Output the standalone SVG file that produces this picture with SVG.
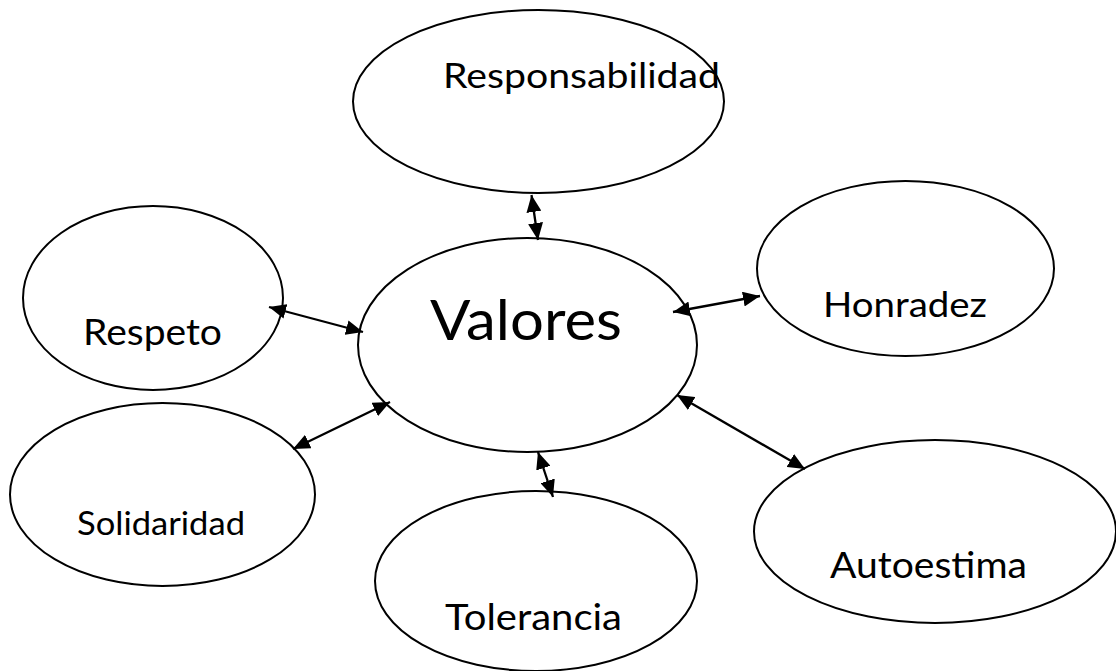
<svg xmlns="http://www.w3.org/2000/svg" width="1116" height="671" viewBox="0 0 1116 671">
<style>
.node ellipse { fill: #ffffff; stroke: #000000; stroke-width: 2; }
.node text { font-family: Lato, "Open Sans", "Liberation Sans", sans-serif; fill: #000000; }
.conn line { stroke: #000000; stroke-width: 2.3; marker-start: url(#ah); marker-end: url(#ah); }
</style>
<defs>
<marker id="ah" markerUnits="userSpaceOnUse" markerWidth="17" markerHeight="15" viewBox="0 0 17 15" refX="17" refY="7.5" orient="auto-start-reverse">
<path d="M0,0 L17,7.5 L0,15 z" fill="#000000"/>
</marker>
</defs>
<rect x="0" y="0" width="1116" height="671" fill="#ffffff"/>
<g id="responsabilidad" class="node">
<ellipse cx="538.5" cy="101.5" rx="185.5" ry="91.5"/>
<text x="443" y="88" font-size="35" textLength="277" lengthAdjust="spacingAndGlyphs">Responsabilidad</text>
</g>
<g id="valores" class="node">
<ellipse cx="527.5" cy="345" rx="169.5" ry="107"/>
<text x="430" y="340" font-size="56" textLength="192" lengthAdjust="spacingAndGlyphs">Valores</text>
</g>
<g id="honradez" class="node">
<ellipse cx="905.5" cy="268.5" rx="148.5" ry="87.5"/>
<text x="823" y="317" font-size="35" textLength="164" lengthAdjust="spacingAndGlyphs">Honradez</text>
</g>
<g id="respeto" class="node">
<ellipse cx="153" cy="298" rx="130" ry="92"/>
<text x="83" y="345" font-size="36" textLength="139" lengthAdjust="spacingAndGlyphs">Respeto</text>
</g>
<g id="solidaridad" class="node">
<ellipse cx="162.5" cy="494.5" rx="152.5" ry="91.5"/>
<text x="77" y="535" font-size="32" textLength="168" lengthAdjust="spacingAndGlyphs">Solidaridad</text>
</g>
<g id="tolerancia" class="node">
<ellipse cx="536" cy="581" rx="161" ry="90"/>
<text x="445" y="630" font-size="36" textLength="177" lengthAdjust="spacingAndGlyphs">Tolerancia</text>
</g>
<g id="autoestima" class="node">
<ellipse cx="935" cy="531.5" rx="181" ry="91.5"/>
<text x="830" y="578" font-size="36" textLength="197" lengthAdjust="spacingAndGlyphs">Autoestima</text>
</g>
<g id="connectors" class="conn">
<line x1="531.5" y1="195" x2="538" y2="240"/>
<line x1="673" y1="312" x2="760" y2="296"/>
<line x1="269" y1="307" x2="363" y2="332"/>
<line x1="293" y1="449" x2="390" y2="402"/>
<line x1="538" y1="452" x2="553" y2="497"/>
<line x1="677" y1="395" x2="805" y2="469"/>
</g>
</svg>
